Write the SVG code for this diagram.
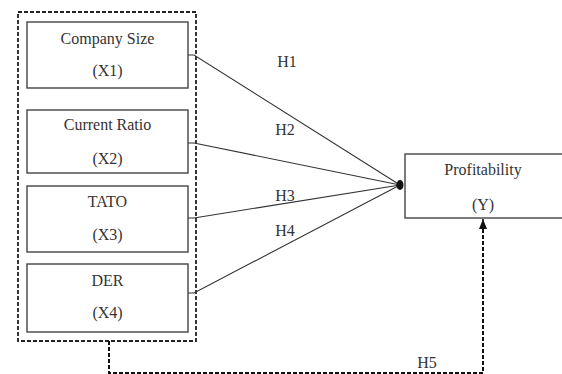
<svg xmlns="http://www.w3.org/2000/svg" width="562" height="374" viewBox="0 0 562 374">
  <style>
    .box { fill: #fff; stroke: #444; stroke-width: 1.4; }
    .group { fill: none; stroke: #222; stroke-width: 1.8; stroke-dasharray: 4 2; }
    .t { font-family: 'Liberation Serif', 'Times New Roman', serif; font-size: 16px; fill: #333; text-anchor: middle; }
    .link { fill: none; stroke: #333; stroke-width: 1.1; }
    .dash { fill: none; stroke: #111; stroke-width: 2; stroke-dasharray: 4 2; }
  </style>
  <defs>
    <marker id="head" viewBox="0 0 10 8" refX="10" refY="4" markerWidth="10" markerHeight="8" markerUnits="userSpaceOnUse" orient="auto">
      <path d="M0,0 L10,4 L0,8 Z" fill="#111"/>
    </marker>
  </defs>
  <rect width="562" height="374" fill="#fff"/>

  <!-- independent variables grouped inside a dashed frame -->
  <rect id="independent-group" class="group" x="18" y="12" width="178" height="329"/>

  <g id="company-size">
    <rect class="box" x="27" y="22" width="161" height="66"/>
    <text class="t" x="107.5" y="44">Company Size</text>
    <text class="t" x="107.5" y="76">(X1)</text>
  </g>
  <g id="current-ratio">
    <rect class="box" x="27" y="110" width="161" height="63"/>
    <text class="t" x="107.5" y="130">Current Ratio</text>
    <text class="t" x="107.5" y="164">(X2)</text>
  </g>
  <g id="tato">
    <rect class="box" x="27" y="186" width="161" height="66"/>
    <text class="t" x="107.5" y="207">TATO</text>
    <text class="t" x="107.5" y="240">(X3)</text>
  </g>
  <g id="der">
    <rect class="box" x="27" y="264" width="161" height="68"/>
    <text class="t" x="107.5" y="286">DER</text>
    <text class="t" x="107.5" y="318">(X4)</text>
  </g>

  <g id="profitability">
    <rect class="box" x="405" y="154" width="160" height="64"/>
    <text class="t" x="483" y="175">Profitability</text>
    <text class="t" x="483" y="210">(Y)</text>
  </g>

  <g id="connectors">
    <path class="link" d="M188,55 H194 L400,185"/>
    <path class="link" d="M188,143 H194 L400,185"/>
    <path class="link" d="M188,218 H194 L400,185"/>
    <path class="link" d="M188,293 H194 L400,185"/>
    <ellipse cx="400" cy="185" rx="3.5" ry="5" fill="#111"/>
    <path class="dash" d="M109,341 V373 H483 V226"/>
    <line x1="483" y1="230" x2="483" y2="219" stroke="#111" stroke-width="1.5" marker-end="url(#head)"/>
    <text class="t" x="287" y="67">H1</text>
    <text class="t" x="285" y="135">H2</text>
    <text class="t" x="285" y="201">H3</text>
    <text class="t" x="285" y="236">H4</text>
    <text class="t" x="427" y="368">H5</text>
  </g>
</svg>
